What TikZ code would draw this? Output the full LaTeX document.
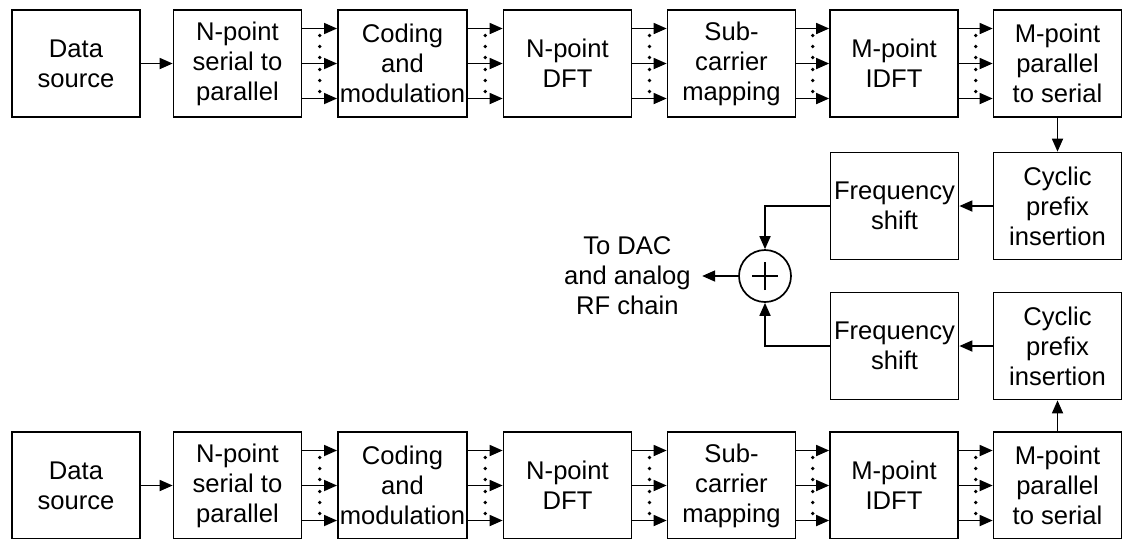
\documentclass[tikz,border=0pt]{standalone}
\usepackage{fontspec}
\setmainfont{Liberation Sans}
\usetikzlibrary{arrows.meta,positioning}

\tikzset{
  blk/.style={draw, line width=0.85pt, minimum width=64pt, minimum height=53.5pt,
    inner sep=1pt, align=center, font=\fontsize{12.8}{15}\selectfont},
  sig/.style={->, line width=0.85pt},
  dotcol/.style={line width=1.9pt, line cap=round, dash pattern=on 0pt off 5.5pt},
  adder/.style={circle, draw, line width=0.85pt, minimum size=26pt, inner sep=0pt,
    path picture={
      \draw[line width=0.85pt] ([xshift=-6.5pt]path picture bounding box.center) -- ++(13pt,0);
      \draw[line width=0.85pt] ([yshift=-7pt]path picture bounding box.center) -- ++(0,14pt);}},
  outtxt/.style={align=center, inner xsep=5.5pt, inner ysep=0pt, font=\fontsize{12.8}{15}\selectfont},
}

\begin{document}
\begin{tikzpicture}[x=0.5pt, y=-0.5pt, >={Triangle[length=6.5pt,width=5.5pt]}]
  \useasboundingbox (0,0) rectangle (1122,538);

  % 1. two transmitter chains (upper and lower)
  \foreach \r/\yy in {1/63.5, 2/485.5} {
    \node[blk] (src\r)  at (76,\yy)     {Data\\source};
    \node[blk] (sp\r)   at (237.5,\yy)  {N-point\\serial to\\parallel};
    \node[blk] (cm\r)   at (402.5,\yy)  {Coding\\and\\modulation};
    \node[blk] (dft\r)  at (567.5,\yy)  {N-point\\DFT};
    \node[blk] (map\r)  at (731.5,\yy)  {Sub-\\carrier\\mapping};
    \node[blk] (idft\r) at (894,\yy)    {M-point\\IDFT};
    \node[blk] (ps\r)   at (1057.5,\yy) {M-point\\parallel\\to serial};
  }

  % 2. cyclic prefix, frequency shift and adder
  \node[blk] (cp1) at (1057.5,206) {Cyclic\\prefix\\insertion};
  \node[blk] (fs1) at (894.5,206)  {Frequency\\shift};
  \node[blk] (cp2) at (1057.5,346) {Cyclic\\prefix\\insertion};
  \node[blk] (fs2) at (894.5,346)  {Frequency\\shift};
  \node[adder] (sum) at (765,276) {};
  \node[outtxt, left=18pt of sum] (dac) {To DAC\\and analog\\RF chain};

  % 3. serial and parallel connections in each chain
  \foreach \r in {1,2} {
    \draw[sig] (src\r) -- (sp\r);
    \foreach \a/\b in {sp/cm, cm/dft, dft/map, map/idft, idft/ps} {
      \foreach \s in {17.5,0,-17.5}
        \draw[sig] ([yshift=\s pt]\a\r.east) -- ([yshift=\s pt]\b\r.west);
      \path (\a\r.east) -- (\b\r.west) coordinate[midway] (gap);
      \draw[dotcol] ([yshift=14pt]gap) -- ([yshift=2.9pt]gap);
      \draw[dotcol] ([yshift=-3pt]gap) -- ([yshift=-14.1pt]gap);
    }
  }

  % 4. paths to the adder and output
  \draw[sig] (ps1) -- (cp1);
  \draw[sig] (cp1) -- (fs1);
  \draw[sig] (fs1.west) -| (sum.north);
  \draw[sig] (ps2) -- (cp2);
  \draw[sig] (cp2) -- (fs2);
  \draw[sig] (fs2.west) -| (sum.south);
  \draw[sig] (sum) -- (dac);
\end{tikzpicture}
\end{document}
